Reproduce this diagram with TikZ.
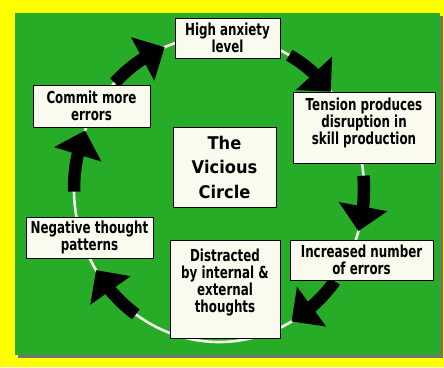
\documentclass[tikz,border=0pt]{standalone}
\usepackage{fontspec}
\newfontfamily\boxfont{DejaVu Sans}[FakeStretch=0.72]
\newfontfamily\bigfont{DejaVu Sans}[FakeStretch=0.93]
\usetikzlibrary{arrows.meta,bending}
\definecolor{bgyellow}{RGB}{255,255,0}
\definecolor{bggreen}{RGB}{38,172,38}
\definecolor{boxfill}{RGB}{250,250,238}
\definecolor{ringwhite}{RGB}{245,245,235}
\begin{document}
\begin{tikzpicture}[x=1pt,y=1pt,
  box/.style={draw=black, line width=0.9pt, fill=boxfill, inner sep=0pt, align=center,
    font=\boxfont\bfseries\fontsize{16.5}{17}\selectfont},
  boxtext/.style={inner sep=0pt, align=center, font=\boxfont\bfseries\fontsize{16.5}{17}\selectfont},
  bigbox/.style={box, font=\bigfont\bfseries\fontsize{17.5}{24.5}\selectfont},
  cyc/.style={draw=black, line width=12.5pt, -{Triangle[length=25pt,width=48pt]}},
  ring/.style={draw=ringwhite, line width=2.6pt}]
\fill[bgyellow] (0,0) rectangle (444,367);
\useasboundingbox (0,0) rectangle (444,367);
\fill[black!55] (18,9) rectangle (443,351);
\fill[bggreen] (15,12) rectangle (440,354);
\coordinate (c) at (219,178);
\draw[ring] (c) ellipse [x radius=145pt, y radius=153pt];
% arrow tails on the ring
\path (c) ++(136:145pt and 153pt) coordinate (t1);
\path (c) ++(61:145pt and 153pt) coordinate (t2);
\path (c) ++(5:145pt and 153pt) coordinate (t3);
\path (c) ++(-37:145pt and 153pt) coordinate (t4);
\path (c) ++(235:145pt and 153pt) coordinate (t5);
\path (c) ++(181:145pt and 153pt) coordinate (t6);
\draw[cyc] (t1) arc[start angle=136, end angle=112, x radius=145pt, y radius=153pt];
\draw[cyc] (t2) arc[start angle=61, end angle=39.5, x radius=145pt, y radius=153pt];
\draw[cyc] (t3) arc[start angle=5, end angle=-16, x radius=145pt, y radius=153pt];
\draw[cyc] (t4) arc[start angle=-37, end angle=-60, x radius=145pt, y radius=153pt];
\draw[cyc] (t5) arc[start angle=235, end angle=212, x radius=145pt, y radius=153pt];
\draw[cyc] (t6) arc[start angle=181, end angle=157.5, x radius=145pt, y radius=153pt];
% boxes
\node[box, minimum width=105pt, minimum height=40pt] (ha) at (227.5,329) {High anxiety\\level};
\node[box, minimum width=142pt, minimum height=71pt] (tp) at (364,239.5) {};
\node[boxtext, yshift=5pt] (tpt) at (tp.center) {Tension produces\\disruption in\\skill production};
\node[box, minimum width=143pt, minimum height=40pt] (in) at (361.5,107) {Increased number\\of errors};
\node[box, minimum width=110pt, minimum height=98pt] (di) at (225,78) {};
\node[boxtext, yshift=6pt] (dit) at (di.center) {Distracted\\by internal \&\\external\\thoughts};
\node[box, minimum width=127pt, minimum height=41pt] (nt) at (89.5,129.5) {Negative thought\\patterns};
\node[box, minimum width=117pt, minimum height=42pt] (cm) at (91.5,261) {Commit more\\errors};
\node[bigbox, minimum width=103pt, minimum height=80pt] (vc) at (224.5,200) {The\\Vicious\\Circle};
\end{tikzpicture}
\end{document}
